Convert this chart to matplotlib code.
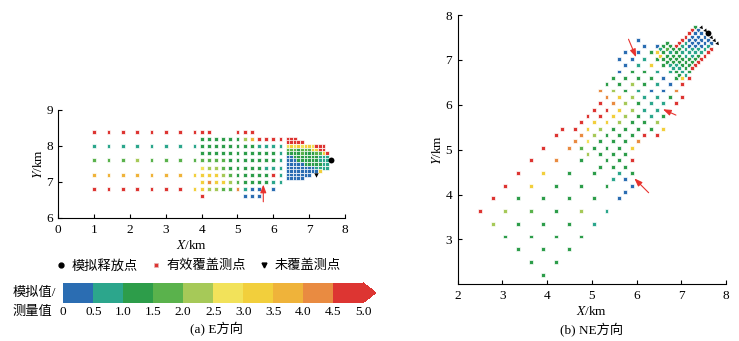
import matplotlib.pyplot as plt
from matplotlib.colors import ListedColormap, BoundaryNorm
from matplotlib.cm import ScalarMappable
from matplotlib.lines import Line2D
from matplotlib.transforms import Affine2D

plt.rcParams['font.family'] = ['Liberation Serif', 'Noto Sans CJK SC']
plt.rcParams['mathtext.fontset'] = 'stix'
plt.rcParams['font.size'] = 9.5

# ── Skala: klasa 0..9 = przedziały 0–0.5, ..., 4.5–5.0 ──────────────────────
BOUNDS = [0, 0.5, 1.0, 1.5, 2.0, 2.5, 3.0, 3.5, 4.0, 4.5, 5.0]
TICK_LABELS = ['0', '0.5', '1.0', '1.5', '2.0', '2.5', '3.0', '3.5', '4.0', '4.5', '5.0']
CLASS_COLORS = ['#2b6db2', '#2ca68c', '#2d9d4a', '#5ab24c', '#a6c958',
                '#f2e25a', '#f2cf3c', '#efb33a', '#e98b41', '#dd3532']

# ── (a) E: wiersze (y, x0, krok, klasy); '.' = brak punktu ──────────────────
E_SOURCE_X, E_SOURCE_Y = [7.6], [7.6]
E_UNCOVERED_X, E_UNCOVERED_Y = [7.2], [7.2]
E_ROWS = [
    # siatka rzadka 0.4 km
    (8.4, 1.0, 0.4, "99999999"),
    (8.0, 1.0, 0.4, "11111111"),
    (7.6, 1.0, 0.4, "33343333"),
    (7.2, 1.0, 0.4, "77777776"),
    (6.8, 1.0, 0.4, "99999996"),
    # siatka średnia 0.2 km
    (8.4, 4.0, 0.2, "99...999"),
    (8.2, 4.0, 0.2, "222222479999"),
    (8.0, 4.0, 0.2, "222222221111"),
    (7.8, 4.0, 0.2, "222222222221"),
    (7.6, 4.0, 0.2, "333322222221"),
    (7.4, 4.0, 0.2, "544322222111"),
    (7.2, 4.0, 0.2, "666432222291"),
    (7.0, 4.0, 0.2, "686643222211"),
    (6.8, 4.0, 0.2, "644338100.0"),
    (6.6, 4.0, 0.2, "9.....000"),
    # siatka gęsta 0.1 km
    (8.2, 6.4, 0.1, "999"),
    (8.1, 6.4, 0.1, "99999"),
    (8.0, 6.4, 0.1, "56565665999"),
    (7.9, 6.4, 0.1, "33323336699"),
    (7.8, 6.4, 0.1, "222232223369"),
    (7.7, 6.4, 0.1, "002222222111"),
    (7.6, 6.4, 0.1, "000222222111"),
    (7.5, 6.4, 0.1, "000002222211"),
    (7.4, 6.4, 0.1, "000000001111"),
    (7.3, 6.4, 0.1, "0000000006"),
    (7.2, 6.4, 0.1, "0000000"),
    (7.1, 6.4, 0.1, "00000"),
]
E_ARROWS = [((5.72, 6.45), (5.72, 6.93))]   # (ogon, grot)

# ── (b) NE: wiersze w układzie lokalnym (poprzecznie c, d0 pod wiatr, krok, klasy)
NE_SOURCE = (7.59, 7.59)
NE_ROWS = [
    # rzadka 0.4 km
    (0.8, 4.0, 0.4, "9999999"),
    (0.4, 4.0, 0.4, "8866244"),
    (0.0, 4.0, 0.4, "2222322"),
    (-0.4, 4.0, 0.4, "2222222"),
    (-0.8, 4.0, 0.4, "2242222"),
    (-1.2, 4.0, 0.4, "0112222"),
    # średnia 0.2 km
    (1.0, 1.2, 0.2, "0.00"),
    (0.8, 1.2, 0.2, "00000228.....9"),
    (0.6, 1.0, 0.2, "02112224899999"),
    (0.4, 1.2, 0.2, "26224268996688"),
    (0.2, 1.2, 0.2, "21221446664453"),
    (0.0, 1.2, 0.2, "10101244422224"),
    (-0.2, 1.2, 0.2, "2001112222222"),
    (-0.4, 1.0, 0.2, "998211122222222"),
    (-0.6, 1.4, 0.2, "99.242986222"),
    (-0.8, 2.2, 0.2, "69...9211"),
    (-1.0, 3.4, 0.2, "20"),
    (-1.2, 3.6, 0.2, "00"),
    # gęsta 0.1 km
    (0.5, 0.8, 0.1, "2216"),
    (0.4, 0.8, 0.1, "2326"),
    (0.3, 0.1, 0.1, "29999992122"),
    (0.2, 0.1, 0.1, "00001122222"),
    (0.1, 0.1, 0.1, "00000112221"),
    (0.0, 0.1, 0.1, "00001112211"),
    (-0.1, 0.1, 0.1, "00011122212"),
    (-0.2, 0.1, 0.1, "01112222212"),
    (-0.3, 0.2, 0.1, "9999999216"),
]
NE_UNCOVERED_D = [0.0, 0.0, 0.0, 0.0, 0.0]
NE_UNCOVERED_C = [0.2, 0.1, -0.1, -0.2, -0.3]
NE_ARROWS = [((5.82, 7.46), (5.99, 7.06)),
             ((6.88, 5.77), (6.59, 5.90)),
             ((6.27, 4.04), (5.95, 4.36))]

CMAP = ListedColormap(CLASS_COLORS)
CMAP.set_over(CLASS_COLORS[-1])
NORM = BoundaryNorm(BOUNDS, CMAP.N)
RED_ARROW = '#e8322e'
W, H = 739, 341
PT = dict(marker='s', s=8, edgecolors='white', linewidths=0.5)


def expand(rows):
    a, b, v = [], [], []
    for fixed, start, step, codes in rows:
        for i, ch in enumerate(codes):
            if ch == '.':
                continue
            a.append(start + i * step)
            b.append(fixed)
            v.append(BOUNDS[int(ch)] + 0.25)   # środek przedziału
    return a, b, v


def style_axes(ax):
    for side in ('top', 'right'):
        ax.spines[side].set_visible(False)
    for side in ('left', 'bottom'):
        ax.spines[side].set_linewidth(0.8)
    ax.tick_params(direction='in', length=3, width=0.8, pad=4, labelsize=9.5)


def add_arrows(ax, arrows):
    for tail, head in arrows:
        ax.annotate('', xy=head, xytext=tail,
                    arrowprops=dict(arrowstyle='-|>,head_length=0.6,head_width=0.22',
                                    color=RED_ARROW, lw=0.8, mutation_scale=8,
                                    shrinkA=0, shrinkB=0))


fig = plt.figure(figsize=(W / 100, H / 100), dpi=100)

# ── (a) E ────────────────────────────────────────────────────────────────────
ax1 = fig.add_axes([58.3 / W, 1 - 218 / H, 286.7 / W, 108 / H])
ex, ey, ev = expand(E_ROWS)
ax1.scatter(ex, ey, c=ev, cmap=CMAP, norm=NORM, **PT)
ax1.scatter(E_UNCOVERED_X, E_UNCOVERED_Y, marker='v', s=10, color='black', linewidths=0)
ax1.scatter(E_SOURCE_X, E_SOURCE_Y, marker='o', s=18, color='black', linewidths=0)
add_arrows(ax1, E_ARROWS)
ax1.set_xlim(0, 8)
ax1.set_ylim(6, 9)
ax1.set_xticks(range(0, 9))
ax1.set_yticks([6, 7, 8, 9])
style_axes(ax1)
ax1.set_xlabel(r'$X$/km')
ax1.set_ylabel(r'$Y$/km')
ax1.xaxis.set_label_coords(0.463, -0.19)
ax1.yaxis.set_label_coords(-0.045, 0.5)

# ── (b) NE – siatka lokalna obrócona o 45° wokół punktu uwolnienia ──────────
ax2 = fig.add_axes([457.7 / W, 1 - 284.3 / H, 268.3 / W, 269.3 / H])
rot = Affine2D().rotate_deg(45).translate(*NE_SOURCE) + ax2.transData
nd, nc, nv = expand(NE_ROWS)
ax2.scatter([-d for d in nd], nc, c=nv, cmap=CMAP, norm=NORM, transform=rot, **PT)
ax2.scatter([-d for d in NE_UNCOVERED_D], NE_UNCOVERED_C, marker=(3, 0, 100), s=10,
            color='black', linewidths=0, transform=rot)
ax2.scatter([0.0], [0.0], marker='o', s=18, color='black', linewidths=0, transform=rot)
add_arrows(ax2, NE_ARROWS)
ax2.set_xlim(2, 8)
ax2.set_ylim(2, 8)
ax2.set_xticks(range(2, 9))
ax2.set_yticks(range(3, 9))
style_axes(ax2)
ax2.set_xlabel(r'$X$/km')
ax2.set_ylabel(r'$Y$/km')
ax2.xaxis.set_label_coords(0.4995, -0.077)
ax2.yaxis.set_label_coords(-0.052, 0.5)
fig.text(591.7 / W, 1 - 330 / H, '(b) NE方向', ha='center', va='center')

# ── legenda ──────────────────────────────────────────────────────────────────
handles = [
    Line2D([], [], ls='none', marker='o', color='black', markersize=3.5),
    Line2D([], [], ls='none', marker='s', markerfacecolor=CLASS_COLORS[-1],
           markeredgecolor='#e6b8b8', markeredgewidth=0.5, markersize=3.4),
    Line2D([], [], ls='none', marker='v', color='black', markersize=3.5),
]
fig.legend(handles, ['模拟释放点', '有效覆盖测点', '未覆盖测点'], loc='center',
           bbox_to_anchor=(199 / W, 1 - 266 / H), ncol=3, frameon=False,
           handlelength=0.6, handletextpad=0.5, columnspacing=1.1, fontsize=9.5)

# ── pasek kolorów ────────────────────────────────────────────────────────────
cax = fig.add_axes([63.3 / W, 1 - 302.7 / H, 312.7 / W, 20 / H])
cb = fig.colorbar(ScalarMappable(norm=NORM, cmap=CMAP), cax=cax,
                  orientation='horizontal', extend='max', extendfrac=0.043)
cb.set_ticks(BOUNDS)
cb.set_ticklabels(TICK_LABELS)
cb.outline.set_visible(False)
cax.tick_params(length=0, pad=2.5, labelsize=9.5)
fig.text(12.7 / W, 1 - 293 / H, '模拟值/', ha='left', va='center')
fig.text(12.7 / W, 1 - 311.7 / H, '测量值', ha='left', va='center')
fig.text(217 / W, 1 - 329 / H, '(a) E方向', ha='center', va='center')

fig.savefig('out.png', dpi=100)
